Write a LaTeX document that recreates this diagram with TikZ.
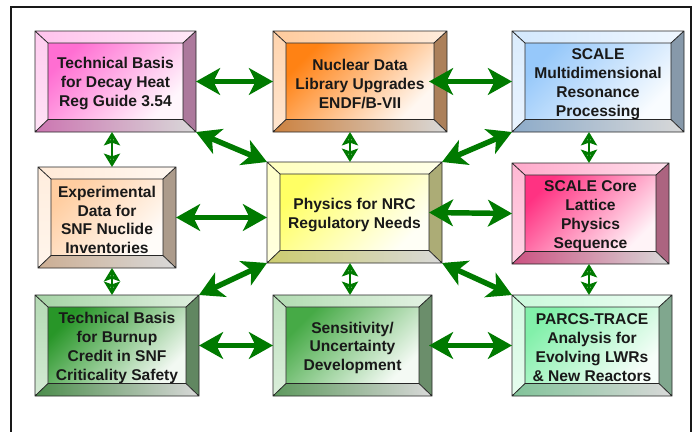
\documentclass[tikz,border=0pt]{standalone}
\usepackage{fontspec}
\setmainfont{Liberation Sans}
\usetikzlibrary{calc,fit,arrows.meta}

\definecolor{arrowgreen}{RGB}{0,122,0}
\definecolor{decaycolor}{RGB}{255,110,210}
\definecolor{nuccolor}{RGB}{255,130,20}
\definecolor{multicolor}{RGB}{150,200,250}
\definecolor{expcolor}{RGB}{255,205,160}
\definecolor{physcolor}{RGB}{255,255,100}
\definecolor{corecolor}{RGB}{255,50,130}
\definecolor{burncolor}{RGB}{40,150,40}
\definecolor{senscolor}{RGB}{70,170,70}
\definecolor{parcscolor}{RGB}{130,240,170}

\tikzset{
  boxnode/.style={inner sep=0pt, outer sep=0pt},
  boxtext/.style={inner sep=0pt, yshift=-1.8pt, align=center, text=black!90, font=\bfseries\fontsize{11.7}{14.2}\selectfont},
  bevelline/.style={draw=black!85, line width=0.6pt},
  bigarrow/.style={draw=arrowgreen, line width=4.1pt, {Stealth[length=18pt,width=20pt,inset=5pt]}-{Stealth[length=18pt,width=20pt,inset=5pt]}},
  smallarrow/.style={draw=arrowgreen, line width=2pt, {Stealth[open,length=10pt,width=12pt,inset=2pt]}-{Stealth[open,length=10pt,width=12pt,inset=2pt]},
    postaction={draw=arrowgreen, line width=2.2pt, -, shorten <=2pt, shorten >=2pt}},
}

% bevelled box: name, outer corner, outer corner, colour, text
\newcommand{\bevelbox}[5]{%
  \path #2 coordinate (#1a) #3 coordinate (#1b)
    ($#2+(13,12)$) coordinate (#1c) ($#3+(-13,-12.5)$) coordinate (#1d);
  \shade[top color=#4, bottom color=#4!6, shading angle=45] (#1c) rectangle (#1d);
  \shade[left color=#4!42, right color=#4!15] (#1a) -- (#1a -| #1b) -- (#1c -| #1d) -- (#1c) -- cycle;
  \shade[top color=#4!35, bottom color=#4!20] (#1a) -- (#1c) -- (#1c |- #1d) -- (#1a |- #1b) -- cycle;
  \fill[#4!35!gray] (#1a -| #1b) -- (#1b) -- (#1d) -- (#1c -| #1d) -- cycle;
  \shade[left color=#4!60!gray, right color=black!15] (#1a |- #1b) -- (#1b) -- (#1d) -- (#1c |- #1d) -- cycle;
  \draw[bevelline] (#1a) rectangle (#1b) (#1c) rectangle (#1d)
    (#1a) -- (#1c) (#1a -| #1b) -- (#1c -| #1d) (#1b) -- (#1d) (#1a |- #1b) -- (#1c |- #1d);
  \node[boxnode, fit=(#1a)(#1b)] (#1) {};
  \node[boxtext] (#1t) at (#1.center) {#5};
}

\begin{document}
\begin{tikzpicture}[x=0.75pt,y=0.75pt,yscale=-1,xscale=1]
\useasboundingbox (0,0) rectangle (694,432);
%Frame
\draw[line width=0.9pt, black!90] (11,432) -- (11,7) -- (691,7) -- (691,432);

%Top row
\bevelbox{decay}{(35,31)}{(196,132)}{decaycolor}{Technical Basis\\for Decay Heat\\Reg Guide 3.54}
\bevelbox{nuc}{(273,31)}{(447,132)}{nuccolor}{Nuclear Data\\Library Upgrades\\ENDF/B-VII}
\bevelbox{multi}{(512,31)}{(684,132)}{multicolor}{SCALE\\Multidimensional\\Resonance\\Processing}
%Middle row
\bevelbox{exp}{(38,167)}{(176,268)}{expcolor}{Experimental\\Data for\\SNF Nuclide\\Inventories}
\bevelbox{phys}{(267,162)}{(442,263)}{physcolor}{Physics for NRC\\Regulatory Needs}
\bevelbox{core}{(512,163)}{(669,264)}{corecolor}{SCALE Core\\Lattice\\Physics\\Sequence}
%Bottom row
\bevelbox{burn}{(35,295)}{(199,396)}{burncolor}{Technical Basis\\for Burnup\\Credit in SNF\\Criticality Safety}
\bevelbox{sens}{(273,295)}{(432,396)}{senscolor}{Sensitivity/\\Uncertainty\\Development}
\bevelbox{parcs}{(512,295)}{(672,396)}{parcscolor}{PARCS-TRACE\\Analysis for\\Evolving LWRs\\\& New Reactors}

%Horizontal arrows
\draw[bigarrow] (decay.east) -- (nuc.west);
\draw[bigarrow] ($(nuc.east)+(-18,0)$) -- (multi.west);
\draw[bigarrow] (exp.east) -- (exp.east -| phys.west);
\draw[bigarrow] ($(phys.east)+(-13,0)$) -- (core.west);
\draw[bigarrow] (burn.east) -- (sens.west);
\draw[bigarrow] ($(sens.east)+(-3,0)$) -- (parcs.west);
%Diagonal arrows
\draw[bigarrow] (decay.south east) -- (phys.north west);
\draw[bigarrow] (multi.south west) -- (phys.north east);
\draw[bigarrow] (burn.north east) -- (phys.south west);
\draw[bigarrow] (parcs.north west) -- (phys.south east);
%Vertical arrows
\draw[smallarrow] ($(decay.south)+(-3.5,0)$) -- ($(exp.north)+(5,0)$);
\draw[smallarrow] ($(exp.south)+(5,0)$) -- ($(burn.north)+(-5,0)$);
\draw[smallarrow] ($(nuc.south)+(-10,0)$) -- ($(phys.north)+(-4.5,0)$);
\draw[smallarrow] ($(phys.south)+(-4.5,0)$) -- ($(sens.north)+(-2.5,0)$);
\draw[smallarrow] ($(multi.south)+(-9,0)$) -- ($(core.north)+(-1.5,0)$);
\draw[smallarrow] ($(core.south)+(-1.5,0)$) -- ($(parcs.north)+(-3,0)$);
\end{tikzpicture}
\end{document}
